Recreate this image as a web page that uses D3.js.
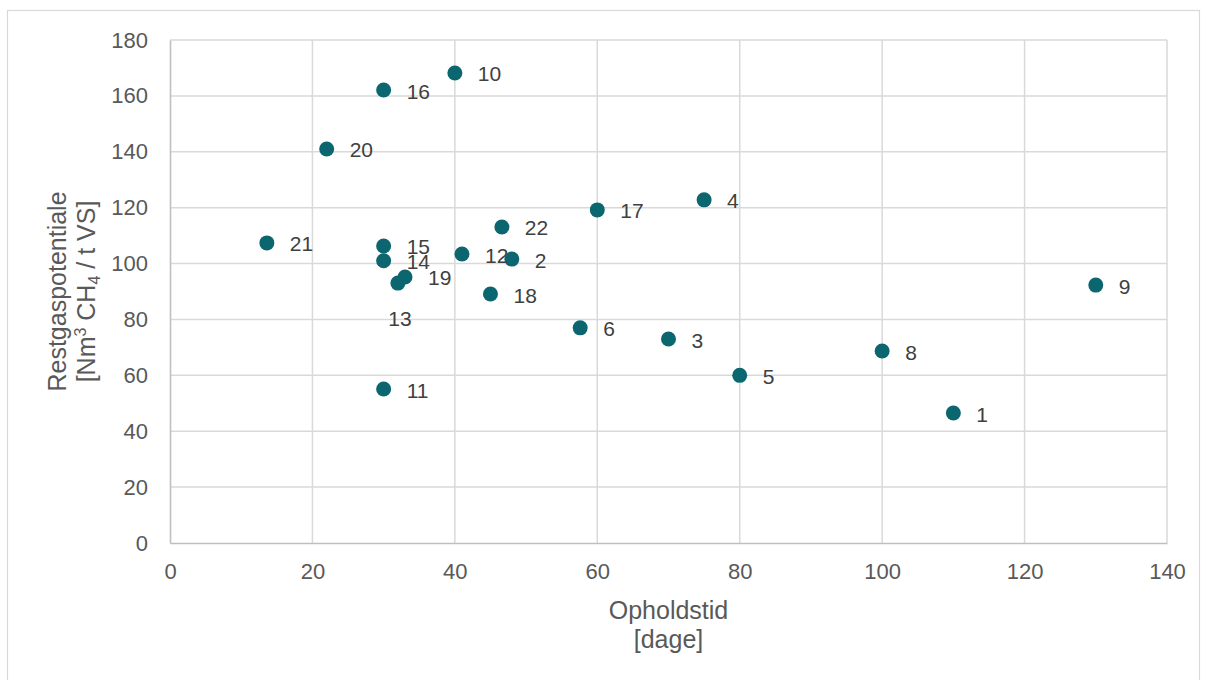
<!DOCTYPE html>
<html>
<head>
<meta charset="utf-8">
<script src="https://cdn.jsdelivr.net/npm/d3@7"></script>
<style>
  html, body { margin: 0; padding: 0; background: #fff; }
  svg { display: block; font-family: "Liberation Sans", Arial, sans-serif; }
</style>
</head>
<body>
<svg id="chart" width="1206" height="680"></svg>
<script>
// Anlæg: opholdstid (dage) og restgaspotentiale (Nm3 CH4 / t VS)
const plantIds  = [1, 2, 3, 4, 5, 6, 8, 9, 10, 11, 12, 13, 14, 15, 16, 17, 18, 19, 20, 21, 22];
const retention = [110, 48, 70, 75, 80, 57.6, 100, 130, 40, 30, 41, 32, 30, 30, 30, 60, 45, 33, 22, 13.6, 46.6];
const residual  = [46.5, 101.6, 73, 122.8, 60, 77, 68.7, 92.3, 168.2, 55.1, 103.4, 93, 101, 106.3, 162.1, 119.2, 89.1, 95.2, 141, 107.4, 113.1];

const xTicks = [0, 20, 40, 60, 80, 100, 120, 140];
const yTicks = [0, 20, 40, 60, 80, 100, 120, 140, 160, 180];

const xTitle = ["Opholdstid", "[dage]"];

const svg = d3.select("#chart");
const plot = { left: 170, right: 1167, top: 40, bottom: 543 };

// Outer chart frame
svg.append("rect")
  .attr("x", 7.5).attr("y", 10.5)
  .attr("width", 1192).attr("height", 700)
  .attr("fill", "#fff").attr("stroke", "#d9d9d9").attr("stroke-width", 1.2);

const x = d3.scaleLinear().domain([0, 140]).range([plot.left, plot.right]);
const y = d3.scaleLinear().domain([0, 180]).range([plot.bottom, plot.top]);

// Gridlines
const grid = svg.append("g");
grid.selectAll("line.v").data(xTicks.slice(1)).join("line")
  .attr("x1", d => x(d)).attr("x2", d => x(d))
  .attr("y1", plot.top).attr("y2", plot.bottom)
  .attr("stroke", "#d9d9d9").attr("stroke-width", 1.5);
grid.selectAll("line.h").data(yTicks.slice(1)).join("line")
  .attr("x1", plot.left).attr("x2", plot.right)
  .attr("y1", d => y(d)).attr("y2", d => y(d))
  .attr("stroke", "#d9d9d9").attr("stroke-width", 1.5);

// Axes
const xAxis = svg.append("g")
  .attr("transform", `translate(0,${plot.bottom})`)
  .call(d3.axisBottom(x).tickValues(xTicks).tickSize(0).tickPadding(20));
const yAxis = svg.append("g")
  .attr("transform", `translate(${plot.left},0)`)
  .call(d3.axisLeft(y).tickValues(yTicks).tickSize(0).tickPadding(22));
[xAxis, yAxis].forEach(a => {
  a.select(".domain").attr("stroke", "#bfbfbf").attr("stroke-width", 1.6);
  a.selectAll("text")
    .attr("fill", "#595959")
    .attr("font-size", 22)
    .attr("font-family", "Liberation Sans, Arial, sans-serif");
});

// Axis titles
const xt = svg.append("text")
  .attr("text-anchor", "middle")
  .attr("fill", "#595959").attr("font-size", 25);
xTitle.forEach((t, i) => {
  xt.append("tspan").attr("x", (plot.left + plot.right) / 2)
    .attr("y", 619 + i * 29).text(t);
});

const yt = svg.append("text")
  .attr("text-anchor", "middle")
  .attr("fill", "#595959").attr("font-size", 25)
  .attr("transform", `translate(66,${(plot.top + plot.bottom) / 2}) rotate(-90)`);
yt.append("tspan").attr("x", 0).attr("y", 0).text("Restgaspotentiale");
const l2 = yt.append("tspan").attr("x", 0).attr("y", 29);
l2.append("tspan").text("[Nm");
l2.append("tspan").attr("font-size", 16).attr("dy", -9).text("3");
l2.append("tspan").attr("dy", 9).text(" CH");
l2.append("tspan").attr("font-size", 16).attr("dy", 5).text("4");
l2.append("tspan").attr("dy", -5).text(" / t VS]");

// Points
const pts = plantIds.map((id, i) => ({ id, x: retention[i], y: residual[i] }));

svg.append("g").selectAll("circle").data(pts).join("circle")
  .attr("cx", d => x(d.x)).attr("cy", d => y(d.y))
  .attr("r", 7.5)
  .attr("fill", "#0b6670");

// Data labels: right of each point, except plant 13 which sits below
const belowLabel = new Set([13]);
svg.append("g").selectAll("text").data(pts).join("text")
  .attr("x", d => belowLabel.has(d.id) ? x(d.x) + 2 : x(d.x) + 23)
  .attr("y", d => belowLabel.has(d.id) ? y(d.y) + 35 : y(d.y) + 1)
  .attr("text-anchor", d => belowLabel.has(d.id) ? "middle" : "start")
  .attr("dominant-baseline", "central")
  .attr("fill", "#404040")
  .attr("font-size", 21)
  .text(d => d.id);
</script>
</body>
</html>
